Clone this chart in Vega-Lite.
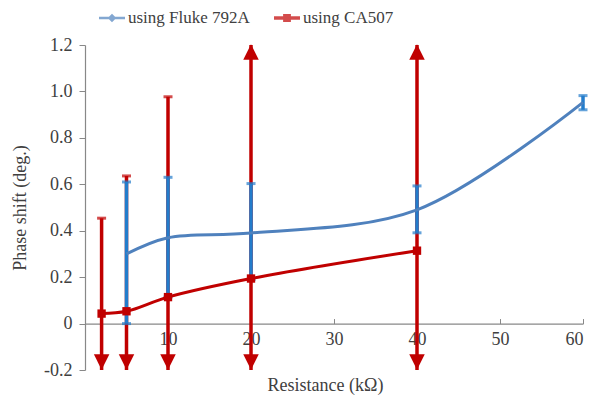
{
  "$schema": "https://vega.github.io/schema/vega-lite/v6.json",
  "width": 498,
  "height": 325,
  "autosize": "none",
  "padding": {"left": 85, "top": 45, "right": 11, "bottom": 39},
  "background": "white",
  "config": {
    "view": {"stroke": null},
    "font": "Liberation Serif",
    "axis": {"labelFont": "Liberation Serif", "titleFont": "Liberation Serif"},
    "legend": {"labelFont": "Liberation Serif"}
  },
  "data": {
    "values": [
      {"series": "using Fluke 792A", "x": 5, "y": 0.30, "lo": 0.0, "hi": 0.61},
      {"series": "using Fluke 792A", "x": 10, "y": 0.37, "lo": 0.114, "hi": 0.63},
      {"series": "using Fluke 792A", "x": 20, "y": 0.39, "lo": 0.19, "hi": 0.603},
      {"series": "using Fluke 792A", "x": 40, "y": 0.49, "lo": 0.391, "hi": 0.593},
      {"series": "using Fluke 792A", "x": 60, "y": 0.953, "lo": 0.921, "hi": 0.982},
      {"series": "using CA507", "x": 2, "y": 0.043, "lo": -0.2, "hi": 0.454},
      {"series": "using CA507", "x": 5, "y": 0.053, "lo": -0.2, "hi": 0.636},
      {"series": "using CA507", "x": 10, "y": 0.114, "lo": -0.2, "hi": 0.977},
      {"series": "using CA507", "x": 20, "y": 0.194, "lo": -0.2, "hi": 1.2},
      {"series": "using CA507", "x": 40, "y": 0.314, "lo": -0.2, "hi": 1.2}
    ]
  },
  "encoding": {
    "x": {
      "field": "x", "type": "quantitative",
      "scale": {"domain": [0, 60], "nice": false, "zero": false},
      "axis": {
        "title": "Resistance (kΩ)",
        "values": [10, 20, 30, 40, 50, 60],
        "grid": false,
        "offset": -46.43,
        "tickSize": -5,
        "tickColor": "#888888",
        "domainColor": "#888888",
        "domainWidth": 1.2,
        "labelPadding": 12,
        "labelFont": "Liberation Serif",
        "labelFontSize": 18,
        "labelColor": "#404040",
        "titleFont": "Liberation Serif",
        "titleFontSize": 18,
        "titleFontWeight": "normal",
        "titleColor": "#404040",
        "titleBaseline": "top",
        "titleY": 53,
        "titleX": 240
      }
    }
  },
  "layer": [
    {
      "transform": [{"filter": "datum.series == 'using CA507'"}],
      "mark": {"type": "rule", "color": "#C00000", "strokeWidth": 3.5},
      "encoding": {
        "y": {
          "field": "lo", "type": "quantitative",
          "scale": {"domain": [-0.2, 1.2], "nice": false, "zero": false},
          "axis": {
            "title": "Phase shift (deg.)",
            "values": [-0.2, 0, 0.2, 0.4, 0.6, 0.8, 1.0, 1.2],
            "labelExpr": "datum.value == 0 ? '0' : replace(format(datum.value, '.1f'), '−', '-')",
            "grid": false,
            "tickSize": 6,
            "tickColor": "#888888",
            "domainColor": "#888888",
            "domainWidth": 1.2,
            "labelPadding": 7,
            "labelFont": "Liberation Serif",
            "labelFontSize": 18,
            "labelColor": "#404040",
            "titleFont": "Liberation Serif",
            "titleFontSize": 18,
            "titleFontWeight": "normal",
            "titleColor": "#404040",
            "titlePadding": 14
          }
        },
        "y2": {"field": "hi"}
      }
    },
    {
      "transform": [
        {"filter": "datum.series == 'using CA507'"},
        {"fold": ["lo", "hi"], "as": ["end", "v"]},
        {"filter": "datum.v > -0.2 && datum.v < 1.2"}
      ],
      "mark": {"type": "tick", "color": "#C00000", "orient": "horizontal", "size": 9, "thickness": 3},
      "encoding": {"y": {"field": "v", "type": "quantitative"}}
    },
    {
      "transform": [
        {"filter": "datum.series == 'using CA507' && datum.lo <= -0.2"}
      ],
      "mark": {"type": "point", "shape": "M0,1L-1,-1L1,-1Z", "filled": true, "color": "#C00000", "opacity": 1, "size": 240, "yOffset": -8},
      "encoding": {"y": {"field": "lo", "type": "quantitative"}}
    },
    {
      "transform": [
        {"filter": "datum.series == 'using CA507' && datum.hi >= 1.2"}
      ],
      "mark": {"type": "point", "shape": "M0,-1L-1,1L1,1Z", "filled": true, "color": "#C00000", "opacity": 1, "size": 240, "yOffset": 7},
      "encoding": {"y": {"field": "hi", "type": "quantitative"}}
    },
    {
      "transform": [{"filter": "datum.series == 'using Fluke 792A'"}],
      "mark": {"type": "rule", "color": "#237CCB", "strokeWidth": 3.5},
      "encoding": {
        "y": {"field": "lo", "type": "quantitative"},
        "y2": {"field": "hi"}
      }
    },
    {
      "transform": [
        {"filter": "datum.series == 'using Fluke 792A'"},
        {"fold": ["lo", "hi"], "as": ["end", "v"]}
      ],
      "mark": {"type": "tick", "color": "#237CCB", "orient": "horizontal", "size": 9, "thickness": 3},
      "encoding": {"y": {"field": "v", "type": "quantitative"}}
    },
    {
      "transform": [{"filter": "datum.series == 'using Fluke 792A'"}],
      "mark": {"type": "line", "strokeWidth": 3, "color": "#4F81BD", "interpolate": "catmull-rom"},
      "encoding": {"y": {"field": "y", "type": "quantitative"}}
    },
    {
      "transform": [{"filter": "datum.series == 'using CA507'"}],
      "mark": {"type": "line", "strokeWidth": 3, "color": "#C00000", "interpolate": "catmull-rom"},
      "encoding": {"y": {"field": "y", "type": "quantitative"}}
    },
    {
      "transform": [{"filter": "datum.series == 'using CA507'"}],
      "mark": {"type": "point", "shape": "square", "filled": true, "color": "#C00000", "opacity": 1, "size": 70},
      "encoding": {"y": {"field": "y", "type": "quantitative"}}
    },
    {
      "mark": {"type": "point", "filled": true, "size": 0},
      "encoding": {
        "y": {"field": "y", "type": "quantitative"},
        "color": {
          "field": "series", "type": "nominal",
          "scale": {"domain": ["using Fluke 792A", "using CA507"], "range": ["#4F81BD", "#C00000"]},
          "legend": {
            "title": null,
            "orient": "none",
            "direction": "horizontal",
            "legendX": 14,
            "legendY": -40,
            "symbolSize": 676,
            "symbolStrokeWidth": 0,
            "labelFont": "Liberation Serif",
            "labelFontSize": 17,
            "labelColor": "#404040",
            "labelOffset": 3,
            "columnPadding": 24
          }
        },
        "shape": {
          "field": "series", "type": "nominal",
          "scale": {
            "domain": ["using Fluke 792A", "using CA507"],
            "range": [
              "M-1,-0.1H1V0.1H-1Z M0,-0.33L0.33,0L0,0.33L-0.33,0Z",
              "M-1,-0.14H1V0.14H-1Z M-0.3,-0.3H0.3V0.3H-0.3Z"
            ]
          }
        }
      }
    }
  ]
}
